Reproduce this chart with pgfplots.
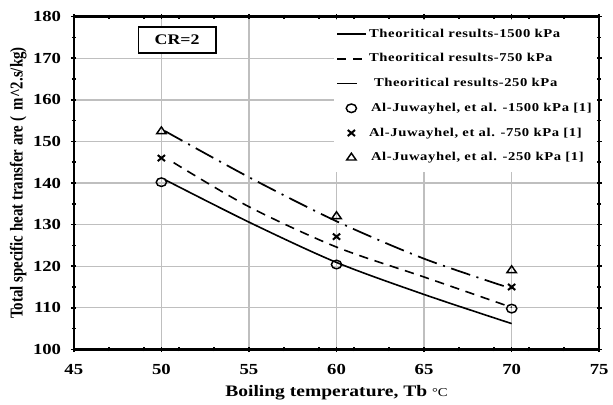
\documentclass[border=0pt]{standalone}
\usepackage{pgfplots}
\pgfplotsset{compat=1.18}
\usepackage{fontspec}
\setmainfont{Liberation Serif}[FakeStretch=1.22]
\newfontfamily\ylabfont{Liberation Serif}[FakeStretch=0.82]
\newfontfamily\legfont{Liberation Serif}[FakeStretch=1.22, LetterSpace=5]
\pgfplotsset{
  legline/.style={legend image code/.code={\draw[##1] (0cm,0cm) -- (0.75cm,0cm);}},
  leglineshort/.style={legend image code/.code={\draw[##1] (0cm,0cm) -- (0.62cm,0cm);}},
  legmark/.style={legend image code/.code={\draw[##1] plot coordinates {(0.375cm,0cm)};}},
}
\begin{document}
\begin{tikzpicture}
\begin{axis}[
  name=ax,
  scale only axis,
  width=394pt, height=249.5pt,
  xmin=45, xmax=75, ymin=100, ymax=180,
  xtick={45,50,...,75}, ytick={100,110,...,180},
  minor xtick={47,49,51,53,57,59,61,63,67,69,71,73},
  minor ytick={105,115,...,175},
  tick align=center,
  major tick length=4pt, minor tick length=3pt,
  grid=major,
  major grid style={gray!50, line width=1pt},
  minor grid style={draw=none},
  axis line style={line width=1.8pt},
  every tick/.style={black, line width=1.2pt},
  tick label style={font=\bfseries\fontsize{11.5}{12}\selectfont},
  xticklabel style={yshift=-6pt},
  yticklabel style={xshift=-4pt},
  /pgf/number format/assume math mode=true,
  xlabel={\bfseries Boiling temperature, Tb {\mdseries\fontsize{9}{9}\selectfont °C}},
  xlabel style={font=\fontsize{12}{12}\selectfont, yshift=-1pt},
  ylabel={\ylabfont\bfseries Total specific heat transfer are (\, m\textasciicircum 2.s/kg)},
  ylabel style={font=\fontsize{13.6}{14}\selectfont, yshift=-2pt},
  legend style={draw=none, fill=white, at={(rel axis cs:0.494,0.992)}, anchor=north west,
    font=\legfont\bfseries\fontsize{9}{10}\selectfont, row sep=6.8pt, inner xsep=2pt, inner ysep=5pt},
  legend cell align=left,
]
\addplot[black, line width=1.2pt, smooth, legline]
  coordinates {(50.2,140.8) (55,130.6) (60,120.9) (65,113.2) (70,106.2)};
\addlegendentry{Theoritical results-1500 kPa}
\addplot[black, line width=1.2pt, dash pattern=on 7pt off 5pt, smooth, legline]
  coordinates {(50.7,144.9) (55,134.3) (60,124.6) (65,117.4) (70,110.1)};
\addlegendentry{Theoritical results-750 kPa}
\addplot[black, line width=1.3pt, dash pattern=on 15pt off 5pt on 1.5pt off 5pt, smooth, leglineshort]
  coordinates {(50.2,152.5) (55,141.4) (60,130.8) (65,121.8) (70,114.6)};
\addlegendentry{\hspace{0.13cm}Theoritical results-250 kPa}
\addplot[only marks, mark=o, mark size=3.2pt, line width=1.1pt, black, mark options={xscale=1.2}, legmark]
  coordinates {(50,140.2) (60,120.4) (70,109.8)};
\addlegendentry{\,Al-Juwayhel, et al. -1500 kPa [1]}
\addplot[only marks, mark=x, mark size=3.2pt, line width=1.5pt, black, mark options={xscale=1.2}, legmark]
  coordinates {(50,146.0) (60,127.1) (70,115.0)};
\addlegendentry{Al-Juwayhel, et al. -750 kPa [1]}
\addplot[only marks, mark=triangle, mark size=3.4pt, line width=1.1pt, black, mark options={xscale=1.2}, legmark]
  coordinates {(50,152.4) (60,132.0) (70,119.0)};
\addlegendentry{\,Al-Juwayhel, et al. -250 kPa [1]}
\node[draw, line width=1.4pt, fill=white, font=\bfseries\fontsize{11}{11}\selectfont, minimum width=58pt, minimum height=19pt] at (axis cs:50.9,174.4) {CR=2};
\end{axis}
\path ([yshift=12.5pt]ax.north);
\path ([xshift=-4pt]ax.outer west);
\end{tikzpicture}
\end{document}
